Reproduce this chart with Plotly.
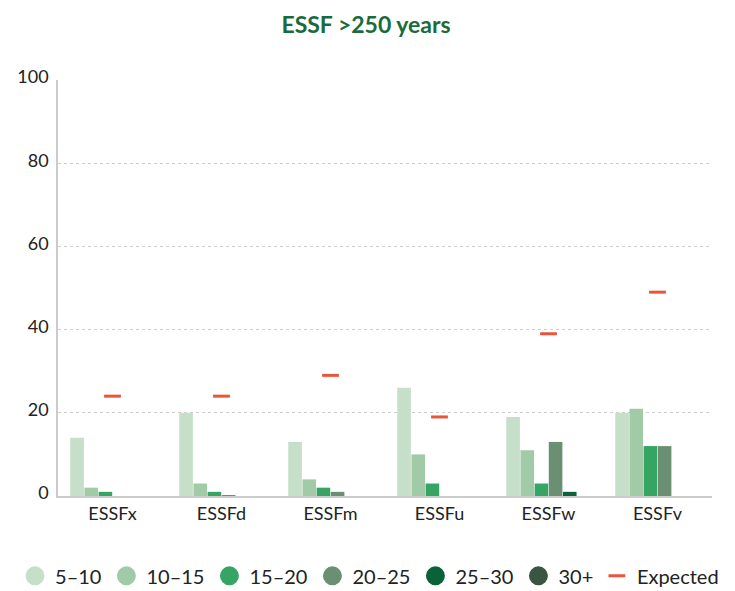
import plotly.graph_objects as go

categories = ["ESSFx", "ESSFd", "ESSFm", "ESSFu", "ESSFw", "ESSFv"]
series_names = ["5–10", "10–15", "15–20", "20–25", "25–30", "30+"]
s_5_10 = [14, 20, 13, 26, 19, 20]
s_10_15 = [2, 3, 4, 10, 11, 21]
s_15_20 = [1, 1, 2, 3, 3, 12]
s_20_25 = [0, 0.2, 1, 0, 13, 12]
s_25_30 = [0, 0, 0, 0, 1, 0]
s_30_plus = [0, 0, 0, 0, 0, 0]
expected = [24, 24, 29, 19, 39, 49]
y_ticks = [0, 20, 40, 60, 80, 100]

colors = ["#c5dfc8", "#a1cba7", "#36a564", "#6b8f72", "#0a6338", "#3b5543"]
exp_color = "#e8553a"

fig = go.Figure()
series = [s_5_10, s_10_15, s_15_20, s_20_25, s_25_30, s_30_plus]
for name, vals, c in zip(series_names, series, colors):
    fig.add_trace(go.Bar(x=categories, y=vals, name=name, marker_color=c,
                         marker_line_width=0, showlegend=False, legendgroup=name))
# legend entries with circle symbols
for name, c in zip(series_names, colors):
    fig.add_trace(go.Scatter(x=[None], y=[None], mode="markers", name=name,
                             marker=dict(symbol="circle", size=16, color=c,
                                         line=dict(width=3, color=c)),
                             legendgroup=name, showlegend=True, legend="legend"))
fig.add_trace(go.Scatter(x=categories, y=expected, mode="markers", name="Expected",
                         marker=dict(symbol="line-ew", size=12,
                                     line=dict(width=3, color=exp_color), color=exp_color),
                         legend="legend2"))

legend_common = dict(orientation="h", y=-0.192, yanchor="middle",
                     font=dict(size=20, color="#222222"),
                     tracegroupgap=0, bgcolor="rgba(0,0,0,0)")

fig.update_layout(
    width=727, height=583,
    margin=dict(l=50, r=23, t=72, b=95, autoexpand=False),
    paper_bgcolor="white", plot_bgcolor="white",
    barmode="group", bargap=0.22, bargroupgap=0.04,
    font=dict(family="Lato", color="#222222", size=17),
    title=dict(text="<b>ESSF >250 years</b>", x=0.4925, xanchor="center", y=0.971,
               yanchor="middle", font=dict(size=23, color="#1a6b3c", family="Lato")),
    legend=dict(x=-0.0657, xanchor="left", **legend_common),
    legend2=dict(x=0.824, xanchor="left", **legend_common),
    xaxis=dict(showline=True, linecolor="#cccccc", linewidth=2, ticks="",
               tickfont=dict(size=18), automargin=False),
    yaxis=dict(range=[0, 100], tickvals=y_ticks, showgrid=True, gridcolor="#cccccc",
               griddash="dot", gridwidth=1, zeroline=False, showline=True,
               linecolor="#cccccc", linewidth=1.5, ticks="", tickfont=dict(size=18),
               ticklabelstandoff=4, ticklabelshift=-3, automargin=False),
)

fig.write_html("out.html")
